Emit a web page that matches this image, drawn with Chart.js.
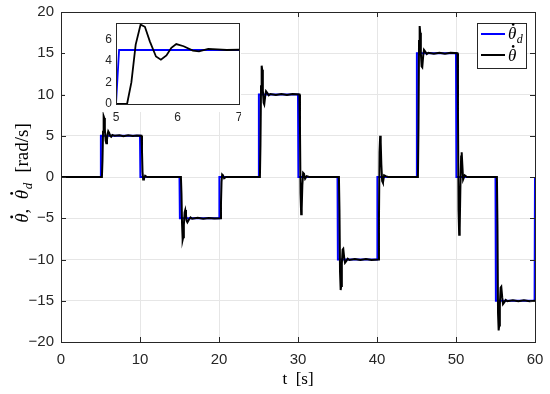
<!DOCTYPE html>
<html>
<head>
<meta charset="utf-8">
<script src="https://cdn.jsdelivr.net/npm/chart.js@4"></script>
<style>
  html, body { margin: 0; padding: 0; background: #fff; }
  #wrap { position: relative; width: 550px; height: 394px; }
  #mainChart { position: absolute; left: 0; top: 0; }
  #insetWrap { position: absolute; left: 65px; top: 13px; width: 176px; height: 112px; }
</style>
</head>
<body>
<div id="wrap">
  <canvas id="mainChart" width="550" height="394"></canvas>
  <div id="insetWrap"><canvas id="insetChart" width="176" height="112"></canvas></div>
</div>
<script>
// desired rate (blue)
const refTime = [0, 5, 5.05, 10, 10.05, 15, 15.05, 20, 20.05, 25, 25.05, 30, 30.05,
  35, 35.05, 40, 40.05, 45, 45.05, 50, 50.05, 55, 55.05, 59.95, 60];
const refRate = [0, 0, 5, 5, 0, 0, -5, -5, 0, 0, 10, 10, 0,
  0, -10, -10, 0, 0, 15, 15, 0, 0, -15, -15, 0];

// measured rate (black), one line per step
const respTime = [
  0, 5.18, 5.25, 5.32, 5.4, 5.47, 5.55, 5.65, 5.73, 5.82, 5.9, 5.98, 6.1, 6.25, 6.35, 6.5, 6.65, 6.8, 7.4, 7.9, 8.5, 9.1, 9.6, 10.18,
  10.25, 10.32, 10.4, 10.5, 10.65, 10.9, 15.18,
  15.25, 15.32, 15.4, 15.47, 15.55, 15.65, 15.73, 15.82, 15.9, 16.0, 16.2, 16.4, 16.6, 17.3, 18.0, 18.7, 19.4, 20.18,
  20.25, 20.32, 20.4, 20.5, 20.65, 20.9, 25.18,
  25.25, 25.32, 25.4, 25.47, 25.55, 25.65, 25.73, 25.85, 25.95, 26.1, 26.3, 26.5, 27.2, 27.9, 28.6, 29.3, 30.18,
  30.25, 30.32, 30.4, 30.47, 30.55, 30.65, 30.75, 30.9, 31.1, 31.4, 35.18,
  35.25, 35.32, 35.4, 35.47, 35.55, 35.65, 35.73, 35.85, 35.95, 36.1, 36.3, 36.5, 37.2, 37.9, 38.6, 39.3, 40.18,
  40.25, 40.32, 40.4, 40.47, 40.55, 40.65, 40.75, 40.9, 41.1, 41.4, 45.18,
  45.25, 45.32, 45.4, 45.47, 45.55, 45.65, 45.73, 45.85, 45.95, 46.1, 46.3, 46.5, 47.2, 47.9, 48.6, 49.3, 50.18,
  50.25, 50.32, 50.4, 50.47, 50.55, 50.65, 50.72, 50.8, 50.9, 51.1, 51.4, 55.18,
  55.25, 55.32, 55.4, 55.47, 55.55, 55.65, 55.73, 55.85, 55.95, 56.1, 56.3, 56.5, 57.2, 57.9, 58.6, 59.3, 60
];
const respRate = [
  0, 0, 2, 5.5, 7.35, 7.15, 5.8, 4.4, 4.1, 4.5, 5.2, 5.55, 5.35, 4.95, 4.88, 5.1, 5.05, 5.0, 5.07, 4.95, 5.06, 4.96, 5.04, 5.0,
  3.2, 0.6, -0.3, -0.2, 0.15, 0, 0,
  -2, -5.6, -7.6, -7.3, -5.8, -4.3, -4.0, -4.6, -5.3, -5.5, -5.15, -4.9, -5.05, -4.95, -5.06, -4.96, -5.04, -5.0,
  -3.2, -0.6, 0.3, 0.2, -0.15, 0, 0,
  4, 11, 13.5, 13, 10.5, 9.0, 8.8, 9.8, 10.4, 10.2, 9.9, 10.05, 9.94, 10.06, 9.95, 10.05, 10,
  6, -2, -4.5, -3.8, -1, 0.5, 0.4, -0.2, 0.1, 0, 0,
  -4, -11.5, -13.7, -13.2, -10.5, -8.8, -8.7, -9.8, -10.4, -10.2, -9.9, -10.05, -9.94, -10.06, -9.95, -10.05, -10,
  -5, 3, 5, 4.2, 1.5, -0.5, -0.7, 0.2, 0.1, 0, 0,
  6, 16.5, 18.3, 17.5, 15, 13.4, 13.3, 14.7, 15.4, 15.2, 14.9, 15.05, 14.94, 15.06, 14.95, 15.05, 15,
  8, -4, -7, -6.2, -1.5, 2.5, 3.0, 1.5, -0.3, 0.2, 0, 0,
  -6, -16.5, -18.6, -18, -15.5, -13.4, -13.3, -14.6, -15.4, -15.2, -14.9, -15.05, -14.94, -15.06, -14.95, -15.05, -15
];

const xTicks = [0, 10, 20, 30, 40, 50, 60];
const yTicks = [-20, -15, -10, -5, 0, 5, 10, 15, 20];
const insetXTicks = [5, 6, 7];
const insetYTicks = [0, 2, 4, 6];

const refPoints = refTime.map((t, i) => ({ x: t, y: refRate[i] }));
const respPoints = respTime.map((t, i) => ({ x: t, y: respRate[i] }));

const axisColor = '#262626';
const minus = v => String(v).replace('-', '\u2212');

function datasets(w) {
  return [
    { label: 'theta', data: respPoints, borderColor: '#000', borderWidth: w, pointRadius: 0, tension: 0 },
    { label: 'theta_d', data: refPoints, borderColor: '#0000ff', borderWidth: w, pointRadius: 0, tension: 0 }
  ];
}

function fixScale(size, horizontal) {
  return s => {
    if (horizontal) s.height = size; else s.width = size;
    s.paddingLeft = 0; s.paddingRight = 0; s.paddingTop = 0; s.paddingBottom = 0;
  };
}

// theta with a dot, optional subscript, returns width
function drawThetaDot(ctx, x, y, size, sub, measureOnly) {
  ctx.font = 'italic ' + size + 'px "Liberation Serif"';
  const w = ctx.measureText('\u03b8').width;
  let total = w;
  if (sub) {
    ctx.font = 'italic ' + Math.round(size * 0.7) + 'px "Liberation Serif"';
    total += ctx.measureText(sub).width + 1;
  }
  if (measureOnly) return total;
  ctx.font = 'italic ' + size + 'px "Liberation Serif"';
  ctx.textAlign = 'left';
  ctx.textBaseline = 'alphabetic';
  ctx.fillText('\u03b8', x, y);
  ctx.beginPath();
  ctx.arc(x + w * 0.62, y - size * 0.86, size * 0.075, 0, Math.PI * 2);
  ctx.fill();
  if (sub) {
    ctx.font = 'italic ' + Math.round(size * 0.7) + 'px "Liberation Serif"';
    ctx.fillText(sub, x + w + 0.5, y + size * 0.22);
  }
  return total;
}

const mainDecor = {
  id: 'mainDecor',
  afterDraw(chart) {
    const ctx = chart.ctx;
    const a = chart.chartArea;
    const xs = chart.scales.x, ys = chart.scales.y;
    ctx.save();
    ctx.strokeStyle = axisColor;
    ctx.lineWidth = 1;
    // inward ticks
    ctx.beginPath();
    xTicks.forEach(v => {
      const px = Math.round(xs.getPixelForValue(v)) + 0.5;
      ctx.moveTo(px, a.bottom); ctx.lineTo(px, a.bottom - 5);
      ctx.moveTo(px, a.top); ctx.lineTo(px, a.top + 5);
    });
    yTicks.forEach(v => {
      const py = Math.round(ys.getPixelForValue(v)) + 0.5;
      ctx.moveTo(a.left, py); ctx.lineTo(a.left + 5, py);
      ctx.moveTo(a.right, py); ctx.lineTo(a.right - 5, py);
    });
    ctx.stroke();
    // box
    ctx.strokeRect(Math.round(a.left) + 0.5, Math.round(a.top) + 0.5,
      Math.round(a.right - a.left), Math.round(a.bottom - a.top));

    // legend
    ctx.fillStyle = '#fff';
    ctx.fillRect(477.5, 23.5, 49, 45);
    ctx.strokeRect(477.5, 23.5, 49, 45);
    ctx.lineWidth = 2;
    ctx.strokeStyle = '#0000ff';
    ctx.beginPath(); ctx.moveTo(481, 34); ctx.lineTo(505, 34); ctx.stroke();
    ctx.strokeStyle = '#000';
    ctx.beginPath(); ctx.moveTo(481, 55); ctx.lineTo(505, 55); ctx.stroke();
    ctx.fillStyle = '#000';
    drawThetaDot(ctx, 508, 39, 17, 'd');
    drawThetaDot(ctx, 508, 61, 17, '');

    // x title
    ctx.fillStyle = '#000';
    ctx.font = '17px "Liberation Serif"';
    ctx.textAlign = 'center';
    ctx.textBaseline = 'alphabetic';
    ctx.fillText('t  [s]', (a.left + a.right) / 2, 384);

    // y title
    const size = 19;
    ctx.font = size + 'px "Liberation Serif"';
    const comma = ',  ';
    const unit = '  [rad/s]';
    const wc = ctx.measureText(comma).width;
    const wu = ctx.measureText(unit).width;
    const w1 = drawThetaDot(ctx, 0, 0, size, '', true);
    const w2 = drawThetaDot(ctx, 0, 0, size, 'd', true);
    const total = w1 + wc + w2 + wu;
    ctx.translate(28, (a.top + a.bottom) / 2 - 4);
    ctx.rotate(-Math.PI / 2);
    let x = -total / 2;
    drawThetaDot(ctx, x, 0, size, ''); x += w1;
    ctx.font = size + 'px "Liberation Serif"';
    ctx.textAlign = 'left';
    ctx.fillText(comma, x, 0); x += wc;
    drawThetaDot(ctx, x, 0, size, 'd'); x += w2;
    ctx.font = size + 'px "Liberation Serif"';
    ctx.fillText(unit, x, 0);
    ctx.restore();
  }
};

const insetBox = {
  id: 'insetBox',
  beforeDraw(chart) {
    // white backing behind the inset axes
    const ctx = chart.ctx;
    const a = chart.chartArea;
    ctx.save();
    ctx.fillStyle = '#fff';
    ctx.fillRect(0, 0, chart.width, a.bottom + 8);
    ctx.restore();
  },
  afterDraw(chart) {
    const ctx = chart.ctx;
    const a = chart.chartArea;
    ctx.save();
    ctx.strokeStyle = axisColor;
    ctx.lineWidth = 1;
    ctx.strokeRect(Math.round(a.left) + 0.5, Math.round(a.top) + 0.5,
      Math.round(a.right - a.left), Math.round(a.bottom - a.top));
    ctx.restore();
  }
};

new Chart(document.getElementById('mainChart').getContext('2d'), {
  type: 'line',
  data: { datasets: datasets(2) },
  options: {
    responsive: false,
    animation: false,
    events: [],
    layout: { padding: { top: 12, right: 15, left: 0, bottom: 0 } },
    plugins: { legend: { display: false }, tooltip: { enabled: false } },
    scales: {
      x: {
        type: 'linear', min: 0, max: 60,
        afterFit: fixScale(52, true),
        afterBuildTicks: s => { s.ticks = xTicks.map(v => ({ value: v })); },
        grid: { color: '#e6e6e6', drawTicks: false },
        border: { display: false },
        ticks: { padding: 9, color: axisColor, font: { family: '"Liberation Sans"', size: 15 }, callback: minus }
      },
      y: {
        type: 'linear', min: -20, max: 20,
        afterFit: fixScale(61, false),
        afterBuildTicks: s => { s.ticks = yTicks.map(v => ({ value: v })); },
        grid: { color: '#e6e6e6', drawTicks: false },
        border: { display: false },
        ticks: { padding: 7, color: axisColor, font: { family: '"Liberation Sans"', size: 15 }, callback: minus }
      }
    }
  },
  plugins: [mainDecor]
});

new Chart(document.getElementById('insetChart').getContext('2d'), {
  type: 'line',
  data: { datasets: datasets(1.8) },
  options: {
    responsive: false,
    animation: false,
    events: [],
    layout: { padding: { top: 10, right: 2, left: 0, bottom: 0 } },
    plugins: { legend: { display: false }, tooltip: { enabled: false } },
    scales: {
      x: {
        type: 'linear', min: 5, max: 7,
        afterFit: fixScale(21, true),
        afterBuildTicks: s => { s.ticks = insetXTicks.map(v => ({ value: v })); },
        grid: { display: false, drawTicks: false },
        border: { display: false },
        ticks: { padding: 6, color: axisColor, font: { family: '"Liberation Sans"', size: 12 } }
      },
      y: {
        type: 'linear', min: 0, max: 7.5,
        afterFit: fixScale(51, false),
        afterBuildTicks: s => { s.ticks = insetYTicks.map(v => ({ value: v })); },
        grid: { display: false, drawTicks: false },
        border: { display: false },
        ticks: { padding: 4, color: axisColor, font: { family: '"Liberation Sans"', size: 12 } }
      }
    }
  },
  plugins: [insetBox]
});
</script>
</body>
</html>
